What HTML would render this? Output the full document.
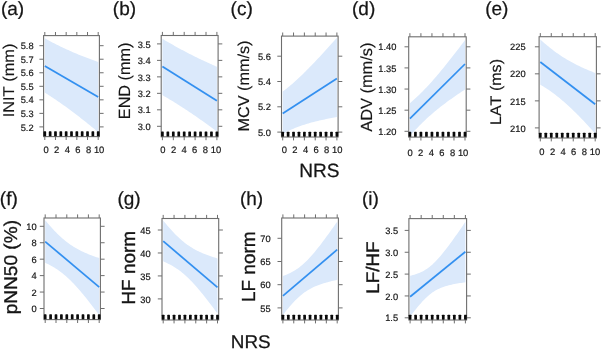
<!DOCTYPE html><html><head><meta charset="utf-8"><style>html,body{margin:0;padding:0;background:#fff;width:602px;height:349px;overflow:hidden}svg{display:block}text{font-family:"Liberation Sans",sans-serif;font-kerning:none;text-rendering:geometricPrecision;stroke:#161616;stroke-width:0.2px}svg{filter:blur(0.25px)}</style></head><body>
<svg width="602" height="349" viewBox="0 0 602 349">
<rect width="602" height="349" fill="#fff"/>
<clipPath id="c0"><rect x="43.6" y="35.6" width="55.8" height="101"/></clipPath>
<polygon clip-path="url(#c0)" fill="#dbe9fb" points="44.8,38.31 46.14,39.06 47.47,39.79 48.81,40.52 50.14,41.23 51.48,41.94 52.81,42.64 54.15,43.33 55.48,44.01 56.82,44.68 58.15,45.35 59.49,46 60.82,46.65 62.16,47.29 63.49,47.92 64.83,48.54 66.16,49.16 67.5,49.77 68.83,50.37 70.17,50.96 71.5,51.55 72.84,52.13 74.17,52.7 75.5,53.27 76.84,53.83 78.18,54.38 79.51,54.93 80.84,55.47 82.18,56 83.52,56.53 84.85,57.06 86.19,57.58 87.52,58.09 88.86,58.6 90.19,59.1 91.53,59.6 92.86,60.09 94.2,60.58 95.53,61.06 96.87,61.54 98.2,62.01 98.2,132.14 96.87,131.04 95.53,129.93 94.2,128.84 92.86,127.74 91.53,126.66 90.19,125.57 88.86,124.49 87.52,123.42 86.19,122.35 84.85,121.29 83.52,120.23 82.18,119.18 80.84,118.14 79.51,117.1 78.18,116.06 76.84,115.04 75.5,114.02 74.17,113 72.84,111.99 71.5,110.99 70.17,110 68.83,109.01 67.5,108.03 66.16,107.06 64.83,106.1 63.49,105.14 62.16,104.19 60.82,103.25 59.49,102.32 58.15,101.39 56.82,100.48 55.48,99.57 54.15,98.67 52.81,97.78 51.48,96.89 50.14,96.02 48.81,95.16 47.47,94.3 46.14,93.45 44.8,92.62"/>
<line clip-path="url(#c0)" x1="44.8" y1="65.9" x2="98.2" y2="97.1" stroke="#3390f0" stroke-width="1.75"/>
<rect x="43.6" y="35.6" width="55.8" height="101" fill="none" stroke="#6e6e6e" stroke-width="1.1"/>
<path d="M44.8 35.6V32M44.8 136.6V140M55.48 35.6V32M55.48 136.6V140M66.16 35.6V32M66.16 136.6V140M76.84 35.6V32M76.84 136.6V140M87.52 35.6V32M87.52 136.6V140M98.2 35.6V32M98.2 136.6V140M43.6 126.9H39.4M99.4 126.9H103.6M43.6 113.37H39.4M99.4 113.37H103.6M43.6 99.83H39.4M99.4 99.83H103.6M43.6 86.3H39.4M99.4 86.3H103.6M43.6 72.77H39.4M99.4 72.77H103.6M43.6 59.23H39.4M99.4 59.23H103.6M43.6 45.7H39.4M99.4 45.7H103.6" stroke="#6e6e6e" stroke-width="1" fill="none"/>
<g fill="#0a0a0a"><rect x="43.45" y="131.3" width="2.7" height="5" rx="0.6"/><rect x="48.79" y="131.3" width="2.7" height="5" rx="0.6"/><rect x="54.13" y="131.3" width="2.7" height="5" rx="0.6"/><rect x="59.47" y="131.3" width="2.7" height="5" rx="0.6"/><rect x="64.81" y="131.3" width="2.7" height="5" rx="0.6"/><rect x="70.15" y="131.3" width="2.7" height="5" rx="0.6"/><rect x="75.49" y="131.3" width="2.7" height="5" rx="0.6"/><rect x="80.83" y="131.3" width="2.7" height="5" rx="0.6"/><rect x="86.17" y="131.3" width="2.7" height="5" rx="0.6"/><rect x="91.51" y="131.3" width="2.7" height="5" rx="0.6"/><rect x="96.85" y="131.3" width="2.7" height="5" rx="0.6"/></g>
<text x="33.6" y="130.55" font-size="9.3" text-anchor="end" fill="#161616">5.2</text>
<text x="33.6" y="117.02" font-size="9.3" text-anchor="end" fill="#161616">5.3</text>
<text x="33.6" y="103.48" font-size="9.3" text-anchor="end" fill="#161616">5.4</text>
<text x="33.6" y="89.95" font-size="9.3" text-anchor="end" fill="#161616">5.5</text>
<text x="33.6" y="76.42" font-size="9.3" text-anchor="end" fill="#161616">5.6</text>
<text x="33.6" y="62.88" font-size="9.3" text-anchor="end" fill="#161616">5.7</text>
<text x="33.6" y="49.35" font-size="9.3" text-anchor="end" fill="#161616">5.8</text>
<text transform="translate(46.1 153.1) scale(1 1)" font-size="9.4" text-anchor="middle" fill="#161616">0</text>
<text transform="translate(56.7 153.1) scale(1 1)" font-size="9.4" text-anchor="middle" fill="#161616">2</text>
<text transform="translate(67.3 153.1) scale(1 1)" font-size="9.4" text-anchor="middle" fill="#161616">4</text>
<text transform="translate(77.9 153.1) scale(1 1)" font-size="9.4" text-anchor="middle" fill="#161616">6</text>
<text transform="translate(88.5 153.1) scale(1 1)" font-size="9.4" text-anchor="middle" fill="#161616">8</text>
<text transform="translate(99.1 153.1) scale(1 1)" font-size="9.4" text-anchor="middle" fill="#161616">10</text>
<clipPath id="c1"><rect x="161.2" y="35.5" width="56.9" height="101.3"/></clipPath>
<polygon clip-path="url(#c1)" fill="#dbe9fb" points="162.4,38.76 163.76,39.58 165.12,40.39 166.49,41.2 167.85,42 169.21,42.79 170.57,43.57 171.94,44.35 173.3,45.12 174.66,45.89 176.02,46.65 177.39,47.4 178.75,48.15 180.11,48.89 181.47,49.63 182.84,50.36 184.2,51.08 185.56,51.79 186.92,52.51 188.29,53.21 189.65,53.91 191.01,54.6 192.38,55.29 193.74,55.97 195.1,56.65 196.46,57.32 197.82,57.98 199.19,58.64 200.55,59.3 201.91,59.95 203.28,60.59 204.64,61.23 206,61.86 207.36,62.49 208.72,63.12 210.09,63.73 211.45,64.35 212.81,64.96 214.18,65.57 215.54,66.17 216.9,66.76 216.9,131.47 215.54,130.46 214.18,129.45 212.81,128.45 211.45,127.45 210.09,126.46 208.72,125.47 207.36,124.48 206,123.5 204.64,122.53 203.28,121.56 201.91,120.59 200.55,119.63 199.19,118.68 197.82,117.73 196.46,116.78 195.1,115.84 193.74,114.91 192.38,113.98 191.01,113.06 189.65,112.15 188.29,111.24 186.92,110.33 185.56,109.43 184.2,108.54 182.84,107.65 181.47,106.77 180.11,105.9 178.75,105.03 177.39,104.17 176.02,103.32 174.66,102.47 173.3,101.62 171.94,100.79 170.57,99.96 169.21,99.13 167.85,98.32 166.49,97.51 165.12,96.7 163.76,95.9 162.4,95.11"/>
<line clip-path="url(#c1)" x1="162.4" y1="66.4" x2="216.9" y2="100.8" stroke="#3390f0" stroke-width="1.75"/>
<rect x="161.2" y="35.5" width="56.9" height="101.3" fill="none" stroke="#6e6e6e" stroke-width="1.1"/>
<path d="M162.4 35.5V31.9M162.4 136.8V140.2M173.3 35.5V31.9M173.3 136.8V140.2M184.2 35.5V31.9M184.2 136.8V140.2M195.1 35.5V31.9M195.1 136.8V140.2M206 35.5V31.9M206 136.8V140.2M216.9 35.5V31.9M216.9 136.8V140.2M161.2 126.3H157M218.1 126.3H222.3M161.2 109.82H157M218.1 109.82H222.3M161.2 93.34H157M218.1 93.34H222.3M161.2 76.86H157M218.1 76.86H222.3M161.2 60.38H157M218.1 60.38H222.3M161.2 43.9H157M218.1 43.9H222.3" stroke="#6e6e6e" stroke-width="1" fill="none"/>
<g fill="#0a0a0a"><rect x="161.05" y="131.5" width="2.7" height="5" rx="0.6"/><rect x="166.5" y="131.5" width="2.7" height="5" rx="0.6"/><rect x="171.95" y="131.5" width="2.7" height="5" rx="0.6"/><rect x="177.4" y="131.5" width="2.7" height="5" rx="0.6"/><rect x="182.85" y="131.5" width="2.7" height="5" rx="0.6"/><rect x="188.3" y="131.5" width="2.7" height="5" rx="0.6"/><rect x="193.75" y="131.5" width="2.7" height="5" rx="0.6"/><rect x="199.2" y="131.5" width="2.7" height="5" rx="0.6"/><rect x="204.65" y="131.5" width="2.7" height="5" rx="0.6"/><rect x="210.1" y="131.5" width="2.7" height="5" rx="0.6"/><rect x="215.55" y="131.5" width="2.7" height="5" rx="0.6"/></g>
<text x="150.6" y="129.95" font-size="9.3" text-anchor="end" fill="#161616">3.0</text>
<text x="150.6" y="113.47" font-size="9.3" text-anchor="end" fill="#161616">3.1</text>
<text x="150.6" y="96.99" font-size="9.3" text-anchor="end" fill="#161616">3.2</text>
<text x="150.6" y="80.51" font-size="9.3" text-anchor="end" fill="#161616">3.3</text>
<text x="150.6" y="64.03" font-size="9.3" text-anchor="end" fill="#161616">3.4</text>
<text x="150.6" y="47.55" font-size="9.3" text-anchor="end" fill="#161616">3.5</text>
<text transform="translate(162.9 153.1) scale(1 1)" font-size="9.4" text-anchor="middle" fill="#161616">0</text>
<text transform="translate(173.5 153.1) scale(1 1)" font-size="9.4" text-anchor="middle" fill="#161616">2</text>
<text transform="translate(184.1 153.1) scale(1 1)" font-size="9.4" text-anchor="middle" fill="#161616">4</text>
<text transform="translate(194.7 153.1) scale(1 1)" font-size="9.4" text-anchor="middle" fill="#161616">6</text>
<text transform="translate(205.3 153.1) scale(1 1)" font-size="9.4" text-anchor="middle" fill="#161616">8</text>
<text transform="translate(215.9 153.1) scale(1 1)" font-size="9.4" text-anchor="middle" fill="#161616">10</text>
<clipPath id="c2"><rect x="281.5" y="36.1" width="56.6" height="100.9"/></clipPath>
<polygon clip-path="url(#c2)" fill="#dbe9fb" points="282.7,91.51 284.06,90.5 285.41,89.46 286.76,88.4 288.12,87.31 289.48,86.2 290.83,85.06 292.19,83.9 293.54,82.72 294.89,81.51 296.25,80.29 297.61,79.05 298.96,77.79 300.31,76.51 301.67,75.21 303.02,73.9 304.38,72.57 305.74,71.23 307.09,69.87 308.44,68.5 309.8,67.12 311.16,65.73 312.51,64.32 313.87,62.91 315.22,61.48 316.58,60.05 317.93,58.6 319.29,57.15 320.64,55.69 322,54.22 323.35,52.75 324.71,51.27 326.06,49.78 327.42,48.28 328.77,46.78 330.12,45.28 331.48,43.77 332.84,42.25 334.19,40.73 335.55,39.2 336.9,37.67 336.9,117.05 335.55,117.29 334.19,117.53 332.84,117.78 331.48,118.04 330.12,118.29 328.77,118.56 327.42,118.83 326.06,119.1 324.71,119.38 323.35,119.67 322,119.97 320.64,120.27 319.29,120.58 317.93,120.89 316.58,121.22 315.22,121.56 313.87,121.9 312.51,122.25 311.16,122.62 309.8,123 308.44,123.38 307.09,123.78 305.74,124.2 304.38,124.63 303.02,125.07 301.67,125.52 300.31,126 298.96,126.49 297.61,127 296.25,127.52 294.89,128.07 293.54,128.64 292.19,129.22 290.83,129.83 289.48,130.47 288.12,131.12 286.76,131.8 285.41,132.51 284.06,133.24 282.7,134"/>
<line clip-path="url(#c2)" x1="282.7" y1="113.6" x2="336.9" y2="78.6" stroke="#3390f0" stroke-width="1.75"/>
<rect x="281.5" y="36.1" width="56.6" height="100.9" fill="none" stroke="#6e6e6e" stroke-width="1.1"/>
<path d="M282.7 36.1V32.5M282.7 137V140.4M293.54 36.1V32.5M293.54 137V140.4M304.38 36.1V32.5M304.38 137V140.4M315.22 36.1V32.5M315.22 137V140.4M326.06 36.1V32.5M326.06 137V140.4M336.9 36.1V32.5M336.9 137V140.4M281.5 132.1H277.3M338.1 132.1H342.3M281.5 106.8H277.3M338.1 106.8H342.3M281.5 81.5H277.3M338.1 81.5H342.3M281.5 56.2H277.3M338.1 56.2H342.3" stroke="#6e6e6e" stroke-width="1" fill="none"/>
<g fill="#0a0a0a"><rect x="281.35" y="131.7" width="2.7" height="5" rx="0.6"/><rect x="286.77" y="131.7" width="2.7" height="5" rx="0.6"/><rect x="292.19" y="131.7" width="2.7" height="5" rx="0.6"/><rect x="297.61" y="131.7" width="2.7" height="5" rx="0.6"/><rect x="303.03" y="131.7" width="2.7" height="5" rx="0.6"/><rect x="308.45" y="131.7" width="2.7" height="5" rx="0.6"/><rect x="313.87" y="131.7" width="2.7" height="5" rx="0.6"/><rect x="319.29" y="131.7" width="2.7" height="5" rx="0.6"/><rect x="324.71" y="131.7" width="2.7" height="5" rx="0.6"/><rect x="330.13" y="131.7" width="2.7" height="5" rx="0.6"/><rect x="335.55" y="131.7" width="2.7" height="5" rx="0.6"/></g>
<text x="270.9" y="135.75" font-size="9.3" text-anchor="end" fill="#161616">5.0</text>
<text x="270.9" y="110.45" font-size="9.3" text-anchor="end" fill="#161616">5.2</text>
<text x="270.9" y="85.15" font-size="9.3" text-anchor="end" fill="#161616">5.4</text>
<text x="270.9" y="59.85" font-size="9.3" text-anchor="end" fill="#161616">5.6</text>
<text transform="translate(284.3 153.1) scale(1 1)" font-size="9.4" text-anchor="middle" fill="#161616">0</text>
<text transform="translate(294.9 153.1) scale(1 1)" font-size="9.4" text-anchor="middle" fill="#161616">2</text>
<text transform="translate(305.5 153.1) scale(1 1)" font-size="9.4" text-anchor="middle" fill="#161616">4</text>
<text transform="translate(316.1 153.1) scale(1 1)" font-size="9.4" text-anchor="middle" fill="#161616">6</text>
<text transform="translate(326.7 153.1) scale(1 1)" font-size="9.4" text-anchor="middle" fill="#161616">8</text>
<text transform="translate(337.3 153.1) scale(1 1)" font-size="9.4" text-anchor="middle" fill="#161616">10</text>
<clipPath id="c3"><rect x="408.7" y="36.8" width="57.5" height="100.3"/></clipPath>
<polygon clip-path="url(#c3)" fill="#dbe9fb" points="409.9,103.24 411.28,102.04 412.65,100.82 414.03,99.58 415.41,98.31 416.79,97.03 418.16,95.72 419.54,94.39 420.92,93.04 422.3,91.66 423.67,90.26 425.05,88.83 426.43,87.39 427.81,85.92 429.19,84.43 430.56,82.92 431.94,81.38 433.32,79.83 434.69,78.26 436.07,76.66 437.45,75.05 438.83,73.43 440.2,71.78 441.58,70.12 442.96,68.45 444.34,66.76 445.71,65.05 447.09,63.34 448.47,61.61 449.85,59.87 451.23,58.12 452.6,56.36 453.98,54.59 455.36,52.81 456.74,51.02 458.11,49.22 459.49,47.41 460.87,45.6 462.25,43.78 463.62,41.96 465,40.12 465,89.5 463.62,90.4 462.25,91.31 460.87,92.23 459.49,93.16 458.11,94.09 456.74,95.03 455.36,95.98 453.98,96.93 452.6,97.9 451.23,98.88 449.85,99.86 448.47,100.86 447.09,101.87 445.71,102.89 444.34,103.92 442.96,104.97 441.58,106.03 440.2,107.11 438.83,108.2 437.45,109.31 436.07,110.44 434.69,111.58 433.32,112.75 431.94,113.93 430.56,115.13 429.19,116.36 427.81,117.6 426.43,118.87 425.05,120.16 423.67,121.48 422.3,122.81 420.92,124.17 419.54,125.56 418.16,126.96 416.79,128.39 415.41,129.84 414.03,131.32 412.65,132.81 411.28,134.33 409.9,135.87"/>
<line clip-path="url(#c3)" x1="409.9" y1="118.7" x2="465" y2="64" stroke="#3390f0" stroke-width="1.75"/>
<rect x="408.7" y="36.8" width="57.5" height="100.3" fill="none" stroke="#6e6e6e" stroke-width="1.1"/>
<path d="M409.9 36.8V33.2M409.9 137.1V140.5M420.92 36.8V33.2M420.92 137.1V140.5M431.94 36.8V33.2M431.94 137.1V140.5M442.96 36.8V33.2M442.96 137.1V140.5M453.98 36.8V33.2M453.98 137.1V140.5M465 36.8V33.2M465 137.1V140.5M408.7 131.3H404.5M466.2 131.3H470.4M408.7 110.18H404.5M466.2 110.18H470.4M408.7 89.05H404.5M466.2 89.05H470.4M408.7 67.92H404.5M466.2 67.92H470.4M408.7 46.8H404.5M466.2 46.8H470.4" stroke="#6e6e6e" stroke-width="1" fill="none"/>
<g fill="#0a0a0a"><rect x="408.55" y="131.8" width="2.7" height="5" rx="0.6"/><rect x="414.06" y="131.8" width="2.7" height="5" rx="0.6"/><rect x="419.57" y="131.8" width="2.7" height="5" rx="0.6"/><rect x="425.08" y="131.8" width="2.7" height="5" rx="0.6"/><rect x="430.59" y="131.8" width="2.7" height="5" rx="0.6"/><rect x="436.1" y="131.8" width="2.7" height="5" rx="0.6"/><rect x="441.61" y="131.8" width="2.7" height="5" rx="0.6"/><rect x="447.12" y="131.8" width="2.7" height="5" rx="0.6"/><rect x="452.63" y="131.8" width="2.7" height="5" rx="0.6"/><rect x="458.14" y="131.8" width="2.7" height="5" rx="0.6"/><rect x="463.65" y="131.8" width="2.7" height="5" rx="0.6"/></g>
<text x="396.4" y="134.95" font-size="9.3" text-anchor="end" fill="#161616">1.20</text>
<text x="396.4" y="113.82" font-size="9.3" text-anchor="end" fill="#161616">1.25</text>
<text x="396.4" y="92.7" font-size="9.3" text-anchor="end" fill="#161616">1.30</text>
<text x="396.4" y="71.57" font-size="9.3" text-anchor="end" fill="#161616">1.35</text>
<text x="396.4" y="50.45" font-size="9.3" text-anchor="end" fill="#161616">1.40</text>
<text transform="translate(410.1 155.6) scale(1 1)" font-size="9.4" text-anchor="middle" fill="#161616">0</text>
<text transform="translate(420.7 155.6) scale(1 1)" font-size="9.4" text-anchor="middle" fill="#161616">2</text>
<text transform="translate(431.3 155.6) scale(1 1)" font-size="9.4" text-anchor="middle" fill="#161616">4</text>
<text transform="translate(441.9 155.6) scale(1 1)" font-size="9.4" text-anchor="middle" fill="#161616">6</text>
<text transform="translate(452.5 155.6) scale(1 1)" font-size="9.4" text-anchor="middle" fill="#161616">8</text>
<text transform="translate(463.1 155.6) scale(1 1)" font-size="9.4" text-anchor="middle" fill="#161616">10</text>
<clipPath id="c4"><rect x="539.1" y="36.7" width="57.3" height="101.3"/></clipPath>
<polygon clip-path="url(#c4)" fill="#dbe9fb" points="540.3,39.49 541.67,40.73 543.05,41.95 544.42,43.14 545.79,44.32 547.16,45.47 548.54,46.6 549.91,47.71 551.28,48.79 552.65,49.85 554.03,50.89 555.4,51.91 556.77,52.9 558.14,53.86 559.51,54.81 560.89,55.73 562.26,56.63 563.63,57.5 565,58.36 566.38,59.19 567.75,60.01 569.12,60.8 570.5,61.57 571.87,62.33 573.24,63.06 574.61,63.78 575.99,64.49 577.36,65.17 578.73,65.84 580.1,66.5 581.47,67.14 582.85,67.77 584.22,68.38 585.59,68.99 586.96,69.58 588.34,70.16 589.71,70.73 591.08,71.29 592.45,71.84 593.83,72.38 595.2,72.91 595.2,133.42 593.83,131.9 592.45,130.38 591.08,128.88 589.71,127.38 588.34,125.9 586.96,124.42 585.59,122.96 584.22,121.51 582.85,120.07 581.47,118.64 580.1,117.23 578.73,115.83 577.36,114.44 575.99,113.08 574.61,111.72 573.24,110.39 571.87,109.07 570.5,107.77 569.12,106.49 567.75,105.23 566.38,103.99 565,102.77 563.63,101.57 562.26,100.39 560.89,99.23 559.51,98.1 558.14,96.99 556.77,95.9 555.4,94.84 554.03,93.8 552.65,92.78 551.28,91.78 549.91,90.81 548.54,89.87 547.16,88.94 545.79,88.04 544.42,87.16 543.05,86.3 541.67,85.47 540.3,84.65"/>
<line clip-path="url(#c4)" x1="540.3" y1="62" x2="595.2" y2="104.2" stroke="#3390f0" stroke-width="1.75"/>
<rect x="539.1" y="36.7" width="57.3" height="101.3" fill="none" stroke="#6e6e6e" stroke-width="1.1"/>
<path d="M540.3 36.7V33.1M540.3 138V141.4M551.28 36.7V33.1M551.28 138V141.4M562.26 36.7V33.1M562.26 138V141.4M573.24 36.7V33.1M573.24 138V141.4M584.22 36.7V33.1M584.22 138V141.4M595.2 36.7V33.1M595.2 138V141.4M539.1 127.9H534.9M596.4 127.9H600.6M539.1 100.87H534.9M596.4 100.87H600.6M539.1 73.83H534.9M596.4 73.83H600.6M539.1 46.8H534.9M596.4 46.8H600.6" stroke="#6e6e6e" stroke-width="1" fill="none"/>
<g fill="#0a0a0a"><rect x="538.95" y="132.7" width="2.7" height="5" rx="0.6"/><rect x="544.44" y="132.7" width="2.7" height="5" rx="0.6"/><rect x="549.93" y="132.7" width="2.7" height="5" rx="0.6"/><rect x="555.42" y="132.7" width="2.7" height="5" rx="0.6"/><rect x="560.91" y="132.7" width="2.7" height="5" rx="0.6"/><rect x="566.4" y="132.7" width="2.7" height="5" rx="0.6"/><rect x="571.89" y="132.7" width="2.7" height="5" rx="0.6"/><rect x="577.38" y="132.7" width="2.7" height="5" rx="0.6"/><rect x="582.87" y="132.7" width="2.7" height="5" rx="0.6"/><rect x="588.36" y="132.7" width="2.7" height="5" rx="0.6"/><rect x="593.85" y="132.7" width="2.7" height="5" rx="0.6"/></g>
<text x="525.6" y="131.55" font-size="9.3" text-anchor="end" fill="#161616">210</text>
<text x="525.6" y="104.52" font-size="9.3" text-anchor="end" fill="#161616">215</text>
<text x="525.6" y="77.48" font-size="9.3" text-anchor="end" fill="#161616">220</text>
<text x="525.6" y="50.45" font-size="9.3" text-anchor="end" fill="#161616">225</text>
<text transform="translate(541.9 155) scale(1 1)" font-size="9.4" text-anchor="middle" fill="#161616">0</text>
<text transform="translate(552.5 155) scale(1 1)" font-size="9.4" text-anchor="middle" fill="#161616">2</text>
<text transform="translate(563.1 155) scale(1 1)" font-size="9.4" text-anchor="middle" fill="#161616">4</text>
<text transform="translate(573.7 155) scale(1 1)" font-size="9.4" text-anchor="middle" fill="#161616">6</text>
<text transform="translate(584.3 155) scale(1 1)" font-size="9.4" text-anchor="middle" fill="#161616">8</text>
<text transform="translate(594.9 155) scale(1 1)" font-size="9.4" text-anchor="middle" fill="#161616">10</text>
<clipPath id="c5"><rect x="44" y="218" width="56.4" height="101.6"/></clipPath>
<polygon clip-path="url(#c5)" fill="#dbe9fb" points="45.2,220.19 46.55,221.8 47.9,223.39 49.25,224.96 50.6,226.49 51.95,228 53.3,229.47 54.65,230.91 56,232.3 57.35,233.67 58.7,234.99 60.05,236.27 61.4,237.51 62.75,238.7 64.1,239.85 65.45,240.96 66.8,242.03 68.15,243.05 69.5,244.03 70.85,244.97 72.2,245.87 73.55,246.73 74.9,247.55 76.25,248.34 77.6,249.1 78.95,249.82 80.3,250.52 81.65,251.18 83,251.83 84.35,252.44 85.7,253.04 87.05,253.61 88.4,254.17 89.75,254.71 91.1,255.23 92.45,255.73 93.8,256.22 95.15,256.7 96.5,257.17 97.85,257.62 99.2,258.06 99.2,315.17 97.85,313.35 96.5,311.55 95.15,309.76 93.8,307.98 92.45,306.21 91.1,304.46 89.75,302.72 88.4,301 87.05,299.3 85.7,297.62 84.35,295.95 83,294.32 81.65,292.7 80.3,291.11 78.95,289.55 77.6,288.01 76.25,286.51 74.9,285.05 73.55,283.61 72.2,282.21 70.85,280.86 69.5,279.54 68.15,278.26 66.8,277.03 65.45,275.83 64.1,274.68 62.75,273.58 61.4,272.52 60.05,271.5 58.7,270.52 57.35,269.59 56,268.69 54.65,267.83 53.3,267.01 51.95,266.23 50.6,265.47 49.25,264.75 47.9,264.06 46.55,263.39 45.2,262.75"/>
<line clip-path="url(#c5)" x1="45.2" y1="241.6" x2="99.2" y2="287.2" stroke="#3390f0" stroke-width="1.75"/>
<rect x="44" y="218" width="56.4" height="101.6" fill="none" stroke="#6e6e6e" stroke-width="1.1"/>
<path d="M45.2 218V214.4M45.2 319.6V323M56 218V214.4M56 319.6V323M66.8 218V214.4M66.8 319.6V323M77.6 218V214.4M77.6 319.6V323M88.4 218V214.4M88.4 319.6V323M99.2 218V214.4M99.2 319.6V323M44 308.5H39.8M100.4 308.5H104.6M44 292.06H39.8M100.4 292.06H104.6M44 275.62H39.8M100.4 275.62H104.6M44 259.18H39.8M100.4 259.18H104.6M44 242.74H39.8M100.4 242.74H104.6M44 226.3H39.8M100.4 226.3H104.6" stroke="#6e6e6e" stroke-width="1" fill="none"/>
<g fill="#0a0a0a"><rect x="43.85" y="314.3" width="2.7" height="5" rx="0.6"/><rect x="49.25" y="314.3" width="2.7" height="5" rx="0.6"/><rect x="54.65" y="314.3" width="2.7" height="5" rx="0.6"/><rect x="60.05" y="314.3" width="2.7" height="5" rx="0.6"/><rect x="65.45" y="314.3" width="2.7" height="5" rx="0.6"/><rect x="70.85" y="314.3" width="2.7" height="5" rx="0.6"/><rect x="76.25" y="314.3" width="2.7" height="5" rx="0.6"/><rect x="81.65" y="314.3" width="2.7" height="5" rx="0.6"/><rect x="87.05" y="314.3" width="2.7" height="5" rx="0.6"/><rect x="92.45" y="314.3" width="2.7" height="5" rx="0.6"/><rect x="97.85" y="314.3" width="2.7" height="5" rx="0.6"/></g>
<text x="36.7" y="312.15" font-size="9.3" text-anchor="end" fill="#161616">0</text>
<text x="36.7" y="295.71" font-size="9.3" text-anchor="end" fill="#161616">2</text>
<text x="36.7" y="279.27" font-size="9.3" text-anchor="end" fill="#161616">4</text>
<text x="36.7" y="262.83" font-size="9.3" text-anchor="end" fill="#161616">6</text>
<text x="36.7" y="246.39" font-size="9.3" text-anchor="end" fill="#161616">8</text>
<text x="36.7" y="229.95" font-size="9.3" text-anchor="end" fill="#161616">10</text>
<clipPath id="c6"><rect x="162" y="218.5" width="56.7" height="101.5"/></clipPath>
<polygon clip-path="url(#c6)" fill="#dbe9fb" points="163.2,220.46 164.56,222.13 165.91,223.77 167.27,225.39 168.63,226.97 169.99,228.52 171.34,230.04 172.7,231.53 174.06,232.97 175.42,234.38 176.77,235.74 178.13,237.05 179.49,238.32 180.85,239.55 182.2,240.72 183.56,241.85 184.92,242.93 186.28,243.96 187.63,244.94 188.99,245.87 190.35,246.77 191.71,247.62 193.06,248.42 194.42,249.19 195.78,249.93 197.14,250.63 198.5,251.3 199.85,251.93 201.21,252.55 202.57,253.13 203.93,253.7 205.28,254.24 206.64,254.76 208,255.27 209.35,255.76 210.71,256.23 212.07,256.69 213.43,257.13 214.78,257.57 216.14,257.99 217.5,258.4 217.5,313.59 216.14,311.75 214.78,309.92 213.43,308.1 212.07,306.29 210.71,304.5 209.35,302.71 208,300.95 206.64,299.2 205.28,297.47 203.93,295.76 202.57,294.07 201.21,292.4 199.85,290.76 198.5,289.14 197.14,287.56 195.78,286 194.42,284.48 193.06,283 191.71,281.55 190.35,280.15 188.99,278.78 187.63,277.47 186.28,276.19 184.92,274.97 183.56,273.79 182.2,272.67 180.85,271.59 179.49,270.56 178.13,269.57 176.77,268.64 175.42,267.74 174.06,266.89 172.7,266.08 171.34,265.31 169.99,264.58 168.63,263.88 167.27,263.21 165.91,262.57 164.56,261.96 163.2,261.37"/>
<line clip-path="url(#c6)" x1="163.2" y1="241.2" x2="217.5" y2="287.3" stroke="#3390f0" stroke-width="1.75"/>
<rect x="162" y="218.5" width="56.7" height="101.5" fill="none" stroke="#6e6e6e" stroke-width="1.1"/>
<path d="M163.2 218.5V214.9M163.2 320V323.4M174.06 218.5V214.9M174.06 320V323.4M184.92 218.5V214.9M184.92 320V323.4M195.78 218.5V214.9M195.78 320V323.4M206.64 218.5V214.9M206.64 320V323.4M217.5 218.5V214.9M217.5 320V323.4M162 298.9H157.8M218.7 298.9H222.9M162 275.93H157.8M218.7 275.93H222.9M162 252.97H157.8M218.7 252.97H222.9M162 230H157.8M218.7 230H222.9" stroke="#6e6e6e" stroke-width="1" fill="none"/>
<g fill="#0a0a0a"><rect x="161.85" y="314.7" width="2.7" height="5" rx="0.6"/><rect x="167.28" y="314.7" width="2.7" height="5" rx="0.6"/><rect x="172.71" y="314.7" width="2.7" height="5" rx="0.6"/><rect x="178.14" y="314.7" width="2.7" height="5" rx="0.6"/><rect x="183.57" y="314.7" width="2.7" height="5" rx="0.6"/><rect x="189" y="314.7" width="2.7" height="5" rx="0.6"/><rect x="194.43" y="314.7" width="2.7" height="5" rx="0.6"/><rect x="199.86" y="314.7" width="2.7" height="5" rx="0.6"/><rect x="205.29" y="314.7" width="2.7" height="5" rx="0.6"/><rect x="210.72" y="314.7" width="2.7" height="5" rx="0.6"/><rect x="216.15" y="314.7" width="2.7" height="5" rx="0.6"/></g>
<text x="150.6" y="302.55" font-size="9.3" text-anchor="end" fill="#161616">30</text>
<text x="150.6" y="279.58" font-size="9.3" text-anchor="end" fill="#161616">35</text>
<text x="150.6" y="256.62" font-size="9.3" text-anchor="end" fill="#161616">40</text>
<text x="150.6" y="233.65" font-size="9.3" text-anchor="end" fill="#161616">45</text>
<clipPath id="c7"><rect x="281.7" y="218" width="56.7" height="102"/></clipPath>
<polygon clip-path="url(#c7)" fill="#dbe9fb" points="282.9,276 284.26,275.5 285.61,274.97 286.97,274.42 288.33,273.82 289.69,273.19 291.04,272.52 292.4,271.8 293.76,271.03 295.12,270.22 296.47,269.34 297.83,268.41 299.19,267.42 300.55,266.37 301.9,265.26 303.26,264.08 304.62,262.84 305.98,261.54 307.33,260.19 308.69,258.78 310.05,257.31 311.41,255.8 312.76,254.24 314.12,252.64 315.48,251 316.84,249.33 318.19,247.62 319.55,245.89 320.91,244.13 322.27,242.34 323.62,240.53 324.98,238.71 326.34,236.86 327.7,235 329.06,233.13 330.41,231.24 331.77,229.34 333.13,227.42 334.49,225.5 335.84,223.57 337.2,221.63 337.2,279.85 335.84,280.15 334.49,280.45 333.13,280.77 331.77,281.09 330.41,281.43 329.06,281.78 327.7,282.14 326.34,282.51 324.98,282.9 323.62,283.31 322.27,283.74 320.91,284.2 319.55,284.67 318.19,285.17 316.84,285.7 315.48,286.27 314.12,286.86 312.76,287.5 311.41,288.18 310.05,288.9 308.69,289.68 307.33,290.5 305.98,291.38 304.62,292.32 303.26,293.32 301.9,294.38 300.55,295.5 299.19,296.69 297.83,297.93 296.47,299.24 295.12,300.6 293.76,302.02 292.4,303.49 291.04,305.01 289.69,306.57 288.33,308.18 286.97,309.82 285.61,311.5 284.26,313.21 282.9,314.95"/>
<line clip-path="url(#c7)" x1="282.9" y1="295.9" x2="337.2" y2="249.7" stroke="#3390f0" stroke-width="1.75"/>
<rect x="281.7" y="218" width="56.7" height="102" fill="none" stroke="#6e6e6e" stroke-width="1.1"/>
<path d="M282.9 218V214.4M282.9 320V323.4M293.76 218V214.4M293.76 320V323.4M304.62 218V214.4M304.62 320V323.4M315.48 218V214.4M315.48 320V323.4M326.34 218V214.4M326.34 320V323.4M337.2 218V214.4M337.2 320V323.4M281.7 307.9H277.5M338.4 307.9H342.6M281.7 284.7H277.5M338.4 284.7H342.6M281.7 261.5H277.5M338.4 261.5H342.6M281.7 238.3H277.5M338.4 238.3H342.6" stroke="#6e6e6e" stroke-width="1" fill="none"/>
<g fill="#0a0a0a"><rect x="281.55" y="314.7" width="2.7" height="5" rx="0.6"/><rect x="286.98" y="314.7" width="2.7" height="5" rx="0.6"/><rect x="292.41" y="314.7" width="2.7" height="5" rx="0.6"/><rect x="297.84" y="314.7" width="2.7" height="5" rx="0.6"/><rect x="303.27" y="314.7" width="2.7" height="5" rx="0.6"/><rect x="308.7" y="314.7" width="2.7" height="5" rx="0.6"/><rect x="314.13" y="314.7" width="2.7" height="5" rx="0.6"/><rect x="319.56" y="314.7" width="2.7" height="5" rx="0.6"/><rect x="324.99" y="314.7" width="2.7" height="5" rx="0.6"/><rect x="330.42" y="314.7" width="2.7" height="5" rx="0.6"/><rect x="335.85" y="314.7" width="2.7" height="5" rx="0.6"/></g>
<text x="270.6" y="311.55" font-size="9.3" text-anchor="end" fill="#161616">55</text>
<text x="270.6" y="288.35" font-size="9.3" text-anchor="end" fill="#161616">60</text>
<text x="270.6" y="265.15" font-size="9.3" text-anchor="end" fill="#161616">65</text>
<text x="270.6" y="241.95" font-size="9.3" text-anchor="end" fill="#161616">70</text>
<clipPath id="c8"><rect x="408.9" y="218.6" width="57.7" height="101.4"/></clipPath>
<polygon clip-path="url(#c8)" fill="#dbe9fb" points="410.1,275.83 411.48,275.48 412.86,275.11 414.25,274.7 415.63,274.26 417.01,273.78 418.39,273.26 419.78,272.69 421.16,272.07 422.54,271.38 423.92,270.64 425.31,269.83 426.69,268.94 428.07,267.98 429.45,266.95 430.84,265.83 432.22,264.64 433.6,263.36 434.99,262.02 436.37,260.6 437.75,259.11 439.13,257.57 440.51,255.96 441.9,254.31 443.28,252.61 444.66,250.86 446.05,249.08 447.43,247.27 448.81,245.43 450.19,243.55 451.58,241.66 452.96,239.74 454.34,237.81 455.72,235.85 457.11,233.88 458.49,231.9 459.87,229.91 461.25,227.9 462.64,225.89 464.02,223.86 465.4,221.83 465.4,282.34 464.02,282.52 462.64,282.7 461.25,282.9 459.87,283.11 458.49,283.32 457.11,283.55 455.72,283.8 454.34,284.06 452.96,284.33 451.58,284.63 450.19,284.95 448.81,285.29 447.43,285.65 446.05,286.05 444.66,286.48 443.28,286.95 441.9,287.46 440.51,288.02 439.13,288.63 437.75,289.3 436.37,290.03 434.99,290.82 433.6,291.68 432.22,292.62 430.84,293.64 429.45,294.74 428.07,295.91 426.69,297.17 425.31,298.49 423.92,299.89 422.54,301.36 421.16,302.89 419.78,304.48 418.39,306.12 417.01,307.81 415.63,309.55 414.25,311.32 412.86,313.12 411.48,314.96 410.1,316.83"/>
<line clip-path="url(#c8)" x1="410.1" y1="296.7" x2="465.4" y2="251.7" stroke="#3390f0" stroke-width="1.75"/>
<rect x="408.9" y="218.6" width="57.7" height="101.4" fill="none" stroke="#6e6e6e" stroke-width="1.1"/>
<path d="M410.1 218.6V215M410.1 320V323.4M421.16 218.6V215M421.16 320V323.4M432.22 218.6V215M432.22 320V323.4M443.28 218.6V215M443.28 320V323.4M454.34 218.6V215M454.34 320V323.4M465.4 218.6V215M465.4 320V323.4M408.9 317.8H404.7M466.6 317.8H470.8M408.9 295.95H404.7M466.6 295.95H470.8M408.9 274.1H404.7M466.6 274.1H470.8M408.9 252.25H404.7M466.6 252.25H470.8M408.9 230.4H404.7M466.6 230.4H470.8" stroke="#6e6e6e" stroke-width="1" fill="none"/>
<g fill="#0a0a0a"><rect x="408.75" y="314.7" width="2.7" height="5" rx="0.6"/><rect x="414.28" y="314.7" width="2.7" height="5" rx="0.6"/><rect x="419.81" y="314.7" width="2.7" height="5" rx="0.6"/><rect x="425.34" y="314.7" width="2.7" height="5" rx="0.6"/><rect x="430.87" y="314.7" width="2.7" height="5" rx="0.6"/><rect x="436.4" y="314.7" width="2.7" height="5" rx="0.6"/><rect x="441.93" y="314.7" width="2.7" height="5" rx="0.6"/><rect x="447.46" y="314.7" width="2.7" height="5" rx="0.6"/><rect x="452.99" y="314.7" width="2.7" height="5" rx="0.6"/><rect x="458.52" y="314.7" width="2.7" height="5" rx="0.6"/><rect x="464.05" y="314.7" width="2.7" height="5" rx="0.6"/></g>
<text x="398.1" y="321.45" font-size="9.3" text-anchor="end" fill="#161616">1.5</text>
<text x="398.1" y="299.6" font-size="9.3" text-anchor="end" fill="#161616">2.0</text>
<text x="398.1" y="277.75" font-size="9.3" text-anchor="end" fill="#161616">2.5</text>
<text x="398.1" y="255.9" font-size="9.3" text-anchor="end" fill="#161616">3.0</text>
<text x="398.1" y="234.05" font-size="9.3" text-anchor="end" fill="#161616">3.5</text>
<text x="0.92" y="14.87" font-size="19" fill="#161616" style="stroke-width:0.25px">(a)</text>
<text x="112.82" y="14.87" font-size="19" fill="#161616" style="stroke-width:0.25px">(b)</text>
<text x="230.62" y="14.87" font-size="19" fill="#161616" style="stroke-width:0.25px">(c)</text>
<text x="352.02" y="14.87" font-size="19" fill="#161616" style="stroke-width:0.25px">(d)</text>
<text x="485.22" y="14.87" font-size="19" fill="#161616" style="stroke-width:0.25px">(e)</text>
<text x="-0.18" y="205.27" font-size="19" fill="#161616" style="stroke-width:0.25px">(f)</text>
<text x="117.42" y="205.27" font-size="19" fill="#161616" style="stroke-width:0.25px">(g)</text>
<text x="239.92" y="205.37" font-size="19" fill="#161616" style="stroke-width:0.25px">(h)</text>
<text x="362.02" y="205.27" font-size="19" fill="#161616" style="stroke-width:0.25px">(i)</text>
<text transform="translate(13.5 117.31) rotate(-90) scale(1.0506 1)" font-size="15.6" fill="#161616" style="stroke-width:0.15px">INIT (mm)</text>
<text transform="translate(130.2 119.13) rotate(-90) scale(0.9945 1)" font-size="16.3" fill="#161616" style="stroke-width:0.15px">END (mm)</text>
<text transform="translate(248.6 131.53) rotate(-90) scale(1.0336 1)" font-size="15.7" fill="#161616" style="stroke-width:0.15px">MCV (mm/s)</text>
<text transform="translate(371.5 131.73) rotate(-90) scale(1.0171 1)" font-size="16.1" fill="#161616" style="stroke-width:0.15px">ADV (mm/s)</text>
<text transform="translate(500.9 125.02) rotate(-90) scale(1.0496 1)" font-size="15.3" fill="#161616" style="stroke-width:0.15px">LAT (ms)</text>
<text transform="translate(16.9 314.33) rotate(-90) scale(1.0308 1)" font-size="18.5" fill="#161616" style="stroke-width:0.35px">pNN50 (%)</text>
<text transform="translate(135.3 304.55) rotate(-90) scale(1.0013 1)" font-size="18.9" fill="#161616" style="stroke-width:0.35px">HF norm</text>
<text transform="translate(255.3 302.06) rotate(-90) scale(1.0049 1)" font-size="18.9" fill="#161616" style="stroke-width:0.35px">LF norm</text>
<text transform="translate(379 293.74) rotate(-90) scale(1.0345 1)" font-size="18.2" fill="#161616" style="stroke-width:0.35px">LF/HF</text>
<text transform="translate(299.34 177.4) scale(0.9933 1)" font-size="19.19" fill="#161616" style="stroke-width:0.25px">NRS</text>
<text transform="translate(230.75 347.6) scale(1.0242 1)" font-size="18.46" fill="#161616" style="stroke-width:0.25px">NRS</text>
</svg></body></html>
